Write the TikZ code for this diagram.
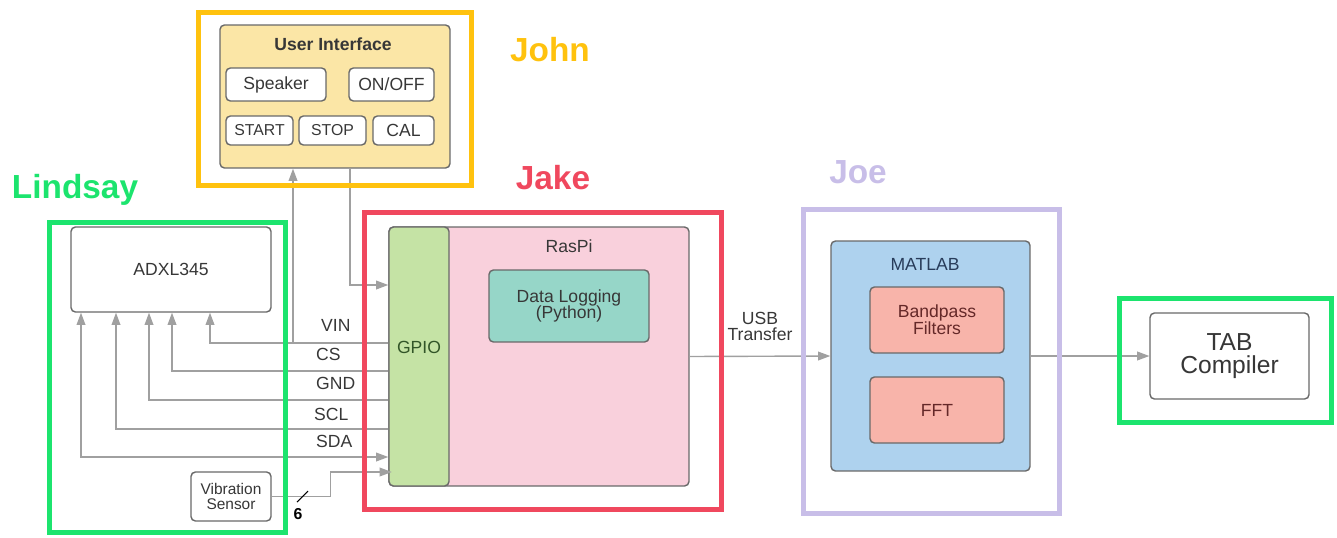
\documentclass[tikz,border=0pt]{standalone}
\usepackage{fontspec}
\setmainfont{Liberation Sans}
\usetikzlibrary{positioning,fit,arrows.meta}
\definecolor{johnY}{RGB}{255,194,14}
\definecolor{lindG}{RGB}{28,228,110}
\definecolor{jakeR}{RGB}{240,72,94}
\definecolor{joeL}{RGB}{200,190,232}
\definecolor{uiFill}{RGB}{251,230,166}
\definecolor{gpioFill}{RGB}{197,227,165}
\definecolor{piFill}{RGB}{249,208,220}
\definecolor{logFill}{RGB}{150,214,200}
\definecolor{matFill}{RGB}{174,210,238}
\definecolor{dspFill}{RGB}{248,180,170}
\definecolor{boxline}{RGB}{105,105,105}
\definecolor{wiregray}{RGB}{160,160,160}
\definecolor{ink}{RGB}{55,55,55}
\tikzset{
	box/.style={draw=boxline, line width=0.8pt, rounded corners=2.5pt, inner sep=0pt, fill=white, text=ink, font=\fontsize{10}{9.5}\selectfont, align=center},
	sz/.style 2 args={minimum width=#1cm, minimum height=#2cm},
	groupframe/.style={draw=#1, line width=2.8pt, inner sep=0pt},
	who/.style={font=\fontsize{19}{19}\selectfont\bfseries, text=#1},
	boxtitle/.style={font=\fontsize{10}{10}\selectfont, text=ink},
	pinlbl/.style={font=\fontsize{10}{10}\selectfont, text=ink, anchor=west},
	wire/.style={draw=wiregray, line width=0.8pt},
	arr/.style={wire, -{Triangle[length=7pt,width=5pt]}},
	arrs/.style={wire, {Triangle[length=7pt,width=5pt]}-{Triangle[length=7pt,width=5pt]}}
}
\begin{document}
\begin{tikzpicture}[x=0.02cm,y=-0.02cm]
		\useasboundingbox (0,0) rectangle (1337,537);
		%%%John
		\node[box, fill=uiFill, sz={4.6}{2.86}] (ui) at (335,96.5) {};
		\node[boxtitle, font=\fontsize{10}{10}\selectfont\bfseries] (uiT) at (333,44) {User Interface};
		\node[box, sz={2.0}{0.66}] (spk) at (276,84.5) {Speaker};
		\node[box, sz={1.7}{0.66}] (onoff) at (391.5,84.5) {ON/OFF};
		\node[box, font=\fontsize{9}{9}\selectfont, sz={1.34}{0.58}] (start) at (259.5,130.5) {START};
		\node[box, font=\fontsize{9}{9}\selectfont, sz={1.34}{0.58}] (stop) at (332.5,130.5) {STOP};
		\node[box, sz={1.22}{0.58}] (cal) at (403.5,130.5) {CAL};
		
		%%%Lindsay
		\node[box, sz={4.0}{1.7}] (adxl) at (171,269.5) {ADXL345};
		\node[box, font=\fontsize{8.8}{8.5}\selectfont, sz={1.6}{0.98}] (vib) at (231,496.5) {Vibration\\Sensor};
		
		%%%Jake
		\node[box, fill=piFill, sz={6.0}{5.18}] (raspi) at (539,356.5) {};
		\node[boxtitle] (raspiT) at (569,246) {RasPi};
		\node[box, fill=gpioFill, sz={1.2}{5.18}] (gpio) at (419,356.5) {};
		\node[boxtitle, text={rgb,255:red,50;green,85;blue,40}] (gpioT) at (419,347) {GPIO};
		\node[box, fill=logFill, sz={3.2}{1.44}] (log) at (569,306) {Data Logging\\(Python)};
		
		%%%Joe
		\node[box, fill=matFill, sz={3.98}{4.6}] (matlab) at (930.5,356) {};
		\node[boxtitle, text={rgb,255:red,40;green,60;blue,90}] (matlabT) at (925,264) {MATLAB};
		\node[box, fill=dspFill, text={rgb,255:red,100;green,40;blue,40}, sz={2.68}{1.32}] (bp) at (937,320) {Bandpass\\Filters};
		\node[box, fill=dspFill, text={rgb,255:red,100;green,40;blue,40}, sz={2.68}{1.32}] (fft) at (937,410) {FFT};
		
		\node[box, font=\fontsize{14}{13}\selectfont, sz={3.18}{1.72}] (tab) at (1229.5,356) {TAB\\Compiler};
		
		%%%wires
		\draw[arr] (ui.south -| 350,0) |- (gpio.west |- 0,285);
		\draw[arr] (gpio.west |- 0,343) -| (ui.south -| 293,0);
		\foreach \yy/\xx in {343/210, 371/172, 400/149, 429/116}
			\draw[arr] (gpio.west |- 0,\yy) -| (adxl.south -| \xx,0);
		\draw[arrs] (gpio.west |- 0,457) -| (adxl.south -| 81,0);
		\draw[arr] (vib.east) -- ++(59,0) |- ([xshift=2pt]gpio.west |- 0,472);
		\draw[line width=0.6pt] (297,502) -- (308,491);
		\node[font=\fontsize{9}{9}\selectfont\bfseries] (six) at (298,514) {6};
		
		\node[pinlbl] (vin) at (315,325) {VIN};
		\node[pinlbl] (cs) at (310,354) {CS};
		\node[pinlbl] (gnd) at (310,383) {GND};
		\node[pinlbl] (scl) at (308,414) {SCL};
		\node[pinlbl] (sda) at (310,441) {SDA};
		
		\draw[arr] (raspi.east) -- node[boxtitle, align=center, above=5pt, font=\fontsize{10}{9.5}\selectfont] (usb) {USB\\Transfer} (matlab.west);
		\draw[arr] (matlab.east) -- (tab.west);
		
		%%%groups
		\node[groupframe=johnY, fit={(198.5,12.5) (471.5,185.5)}] (johnF) {};
		\node[groupframe=lindG, fit={(49.5,222.5) (285.5,532.5)}] (lindF) {};
		\node[groupframe=jakeR, fit={(364.5,212.5) (721.5,509.5)}] (jakeF) {};
		\node[groupframe=joeL, fit={(803.5,209.5) (1059.5,513.5)}] (joeF) {};
		\node[groupframe=lindG, fit={(1119.5,298.5) (1331.5,422.5)}] (tabF) {};
		
		\node[who=johnY] (john) at (550,50) {John};
		\node[who=lindG] (lindsay) at (75,190) {Lindsay};
		\node[who=jakeR] (jake) at (553,178) {Jake};
		\node[who=joeL] (joe) at (858,172) {Joe};
	\end{tikzpicture}
\end{document}
